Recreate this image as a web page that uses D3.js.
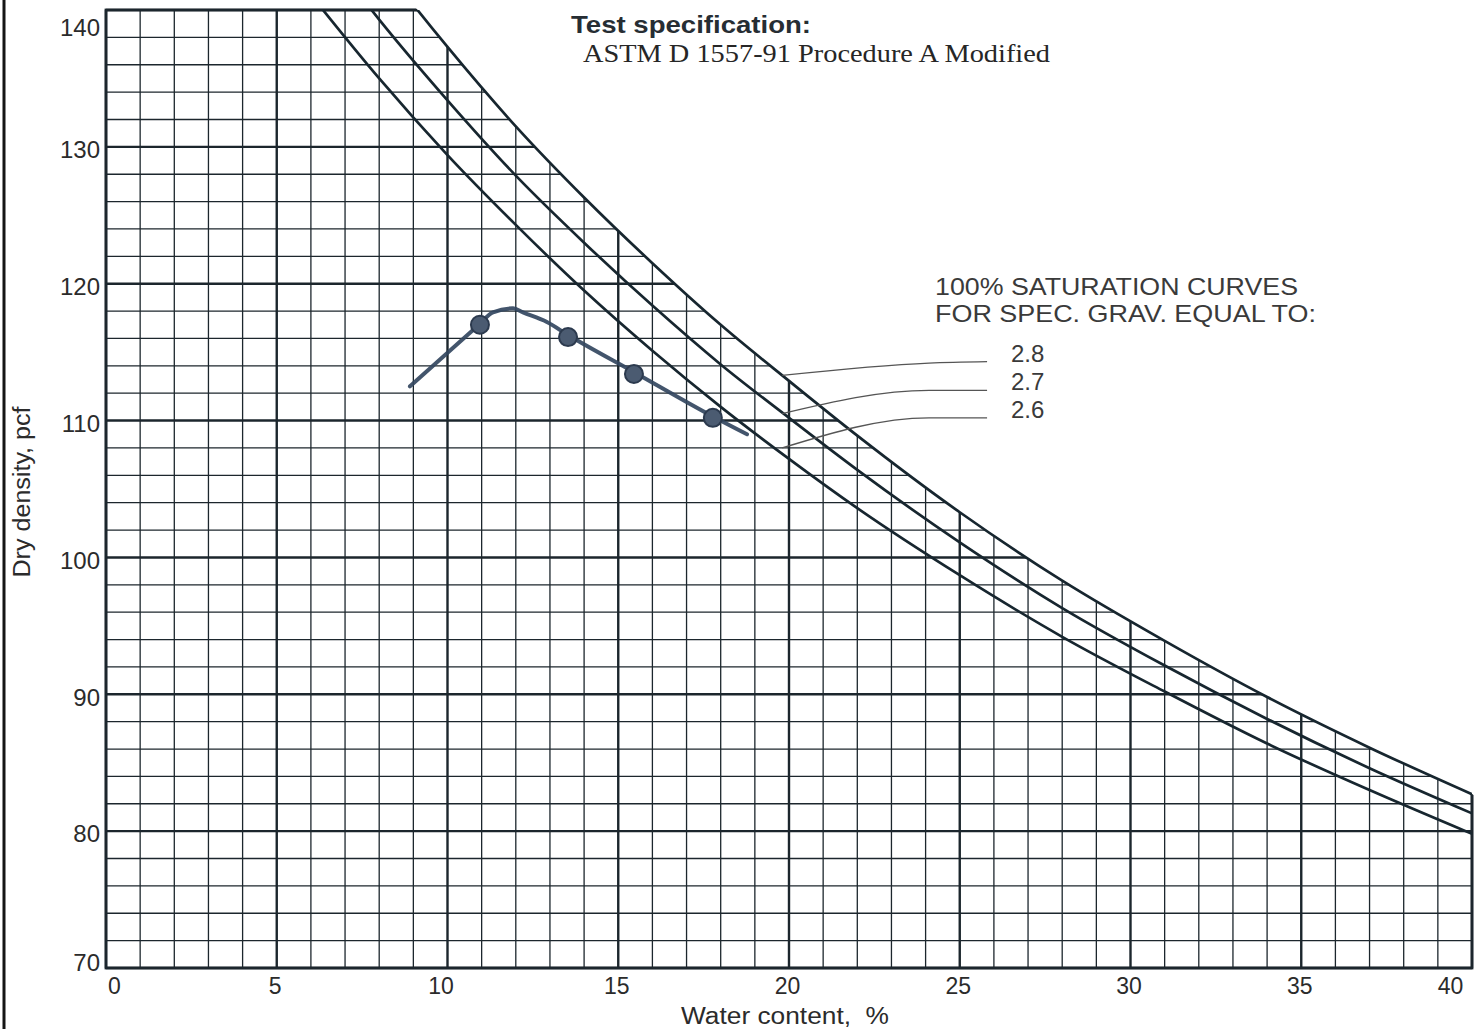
<!DOCTYPE html>
<html><head><meta charset="utf-8">
<script src="https://cdn.jsdelivr.net/npm/d3@7"></script>
<style>html,body{margin:0;padding:0;background:#fff;} svg{display:block;}</style>
</head><body>
<svg id="chart" width="1484" height="1029"></svg>
<script>
// ---------- data ----------
const waterTicks = [0, 5, 10, 15, 20, 25, 30, 35, 40];
const densityTicks = [70, 80, 90, 100, 110, 120, 130, 140];

// 100% saturation curves
const satWater = [6, 8, 10, 12, 14, 16, 18, 20, 22, 25, 28, 31, 34, 37, 40];
const sat28 = [150.5, 143.6, 137.3, 131.5, 126.3, 121.5, 117.0, 112.9, 108.9, 103.3, 98.3, 93.9, 89.8, 86.1, 82.7];
const sat27 = [145.8, 139.3, 133.4, 127.9, 123.0, 118.4, 114.1, 110.2, 106.4, 101.1, 96.3, 92.1, 88.2, 84.6, 81.3];
const sat26 = [141.1, 135.0, 129.4, 124.3, 119.5, 115.1, 111.0, 107.2, 103.6, 98.7, 94.2, 90.2, 86.4, 83.0, 79.8];
const satLabels = ["2.8", "2.7", "2.6"];

// leader lines from the curves to the labels
const leaderWater = [19.8, 24.1, 25.8];
const leader28 = [113.3, 114.2, 114.3];
const leader27 = [110.5, 112.2, 112.2];
const leader26 = [108.0, 110.2, 110.2];
const labelWater = 26.5;

// compaction test points
const pointWater = [10.95, 13.53, 15.46, 17.77];
const pointDensity = [117.0, 116.1, 113.4, 110.2];

// hand drawn compaction curve
const fitWater = [8.9, 10.92, 11.33, 11.92, 12.21, 12.91, 13.53, 15.49, 17.77, 18.77];
const fitDensity = [112.5, 117.0, 117.9, 118.2, 117.9, 117.2, 116.25, 113.5, 110.3, 109.0];

// ---------- drawing ----------
const svg = d3.select("#chart");
const x = d3.scaleLinear().domain([0, 40]).range([106, 1472]);
const y = d3.scaleLinear().domain([70, 140]).range([968, 10]);

const ink = "#1c262d";
const defs = svg.append("defs");

// area under the 2.8 curve (grid only exists below it)
const n = satWater.length;
const c28 = satWater.map((w, i) => [w, sat28[i]]);
const slope = (c28[n-1][1] - c28[n-2][1]) / (c28[n-1][0] - c28[n-2][0]);
const clipPts = [[-2, c28[0][1]]].concat(c28).concat([[c28[n-1][0] + 1, c28[n-1][1] + slope]]);
const clipArea = d3.area().x(d => x(d[0])).y0(y(70) + 8).y1(d => y(d[1])).curve(d3.curveMonotoneX);
defs.append("clipPath").attr("id", "under").append("path").attr("d", clipArea(clipPts));
defs.append("clipPath").attr("id", "plot").append("rect")
  .attr("x", x(0)).attr("y", y(140)).attr("width", x(40) - x(0)).attr("height", y(70) - y(140));

// scan edge on the left
svg.append("line").attr("x1", 4).attr("x2", 4).attr("y1", 0).attr("y2", 1029)
  .attr("stroke", "#151515").attr("stroke-width", 3);

const grid = svg.append("g").attr("clip-path", "url(#under)");
grid.selectAll("line.v").data(x.ticks(40)).join("line")
  .attr("x1", d => x(d)).attr("x2", d => x(d)).attr("y1", y(70)).attr("y2", y(140))
  .attr("stroke", ink).attr("stroke-width", d => d % 5 === 0 ? 2.4 : 1.3);
grid.selectAll("line.h").data(y.ticks(35)).join("line")
  .attr("y1", d => y(d)).attr("y2", d => y(d)).attr("x1", x(0)).attr("x2", x(40))
  .attr("stroke", ink).attr("stroke-width", d => d % 10 === 0 ? 2.4 : 1.3);
grid.append("rect").attr("x", x(0)).attr("y", y(140)).attr("width", x(40) - x(0)).attr("height", y(70) - y(140))
  .attr("fill", "none").attr("stroke", ink).attr("stroke-width", 2.8);

// saturation curves
const satLine = d3.line().x(d => x(d[0])).y(d => y(d[1])).curve(d3.curveMonotoneX);
const satG = svg.append("g").attr("clip-path", "url(#plot)");
[sat28, sat27, sat26].forEach(s => {
  satG.append("path").attr("d", satLine(satWater.map((w, i) => [w, s[i]])))
    .attr("fill", "none").attr("stroke", "#17262f").attr("stroke-width", 2.7);
});

// leaders + labels
[leader28, leader27, leader26].forEach((L, k) => {
  svg.append("path").attr("d", satLine(leaderWater.map((w, i) => [w, L[i]])))
    .attr("fill", "none").attr("stroke", "#555").attr("stroke-width", 1.3);
  svg.append("text").attr("x", x(labelWater)).attr("y", y(L[L.length - 1]))
    .attr("font-family", "Liberation Sans, Arial, sans-serif").attr("font-size", 24)
    .attr("fill", "#3a3a3a").text(satLabels[k]);
});

svg.append("text").attr("x", 935).attr("y", 295).attr("textLength", 363).attr("lengthAdjust", "spacingAndGlyphs")
  .attr("font-family", "Liberation Sans, Arial, sans-serif").attr("font-size", 24).attr("fill", "#3a3a3a")
  .text("100% SATURATION CURVES");
svg.append("text").attr("x", 935).attr("y", 322).attr("textLength", 381).attr("lengthAdjust", "spacingAndGlyphs")
  .attr("font-family", "Liberation Sans, Arial, sans-serif").attr("font-size", 24).attr("fill", "#3a3a3a")
  .text("FOR SPEC. GRAV. EQUAL TO:");

// header
svg.append("text").attr("x", 571).attr("y", 33).attr("textLength", 240).attr("lengthAdjust", "spacingAndGlyphs")
  .attr("font-family", "Liberation Sans, Arial, sans-serif").attr("font-size", 24).attr("font-weight", "bold")
  .attr("fill", "#262d33").text("Test specification:");
svg.append("text").attr("x", 583).attr("y", 62).attr("textLength", 467).attr("lengthAdjust", "spacingAndGlyphs")
  .attr("font-family", "Liberation Serif, Times New Roman, serif").attr("font-size", 25)
  .attr("fill", "#262626").text("ASTM D 1557-91 Procedure A Modified");

// hand-drawn compaction curve
const fitLine = d3.line().x(d => x(d[0])).y(d => y(d[1])).curve(d3.curveMonotoneX);
svg.append("path").attr("d", fitLine(fitWater.map((w, i) => [w, fitDensity[i]])))
  .attr("fill", "none").attr("stroke", "#33465f").attr("stroke-width", 4)
  .attr("stroke-linecap", "round").attr("stroke-linejoin", "round").attr("opacity", 0.92);
svg.selectAll("circle.pt").data(pointWater).join("circle")
  .attr("cx", (d) => x(d)).attr("cy", (d, i) => y(pointDensity[i])).attr("r", 9)
  .attr("fill", "#4b5b71").attr("stroke", "#2c3a4e").attr("stroke-width", 2);

// axes
const yAxis = svg.append("g").attr("transform", `translate(${x(0)},0)`)
  .call(d3.axisLeft(y).tickValues(densityTicks).tickSize(0).tickPadding(6));
yAxis.select(".domain").remove();
yAxis.selectAll("text").attr("font-family", "Liberation Sans, Arial, sans-serif").attr("font-size", 24)
  .attr("fill", "#2b2b2b").attr("dy", d => d === 140 ? "1.05em" : d === 70 ? "0.1em" : "0.45em");

const xAxis = svg.append("g").attr("transform", `translate(0,${y(70)})`)
  .call(d3.axisBottom(x).tickValues(waterTicks).tickSize(0).tickPadding(10));
xAxis.select(".domain").remove();
xAxis.selectAll("text").attr("font-family", "Liberation Sans, Arial, sans-serif").attr("font-size", 23)
  .attr("fill", "#2b2b2b").attr("dx", d => d === 0 ? 8 : d === 40 ? -22 : d === 10 ? -7 : -2);

// axis titles
svg.append("text").attr("x", 785).attr("y", 1024).attr("text-anchor", "middle")
  .attr("textLength", 208).attr("lengthAdjust", "spacingAndGlyphs").style("white-space", "pre")
  .attr("font-family", "Liberation Sans, Arial, sans-serif").attr("font-size", 23).attr("fill", "#2b2b2b")
  .text("Water content,  %");
svg.append("text").attr("transform", "translate(30,492) rotate(-90)").attr("text-anchor", "middle")
  .attr("textLength", 171).attr("lengthAdjust", "spacingAndGlyphs")
  .attr("font-family", "Liberation Sans, Arial, sans-serif").attr("font-size", 23).attr("fill", "#2b2b2b")
  .text("Dry density, pcf");
</script>
</body></html>
